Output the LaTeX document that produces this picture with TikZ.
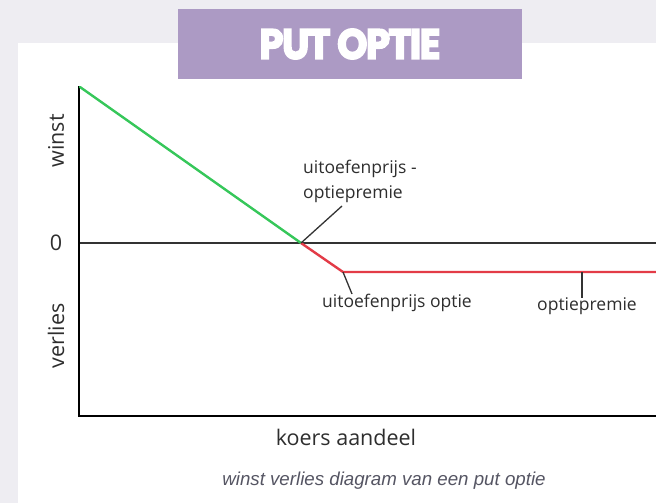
\documentclass[tikz,border=0pt]{standalone}
\usepackage{fontspec}
\setmainfont{Open Sans}
\newfontfamily\titlefont{Poppins}[FakeBold=4, LetterSpace=-4]
\newfontfamily\capfont{Liberation Sans}
\definecolor{bgc}{HTML}{EEEDF2}
\definecolor{bannerc}{HTML}{AC9AC4}
\definecolor{gainc}{HTML}{36C75A}
\definecolor{lossc}{HTML}{E33B47}
\definecolor{txtc}{HTML}{2E2E2E}
\definecolor{capc}{HTML}{555563}
\tikzset{
  axisline/.style={line width=2.4pt, black},
  zeroline/.style={line width=1.4pt, black!80},
  gainline/.style={line width=2.4pt, gainc},
  lossline/.style={line width=2.4pt, lossc},
  pointer/.style={line width=1.3pt, black!80},
  lbl/.style={font=\fontsize{17.5}{25}\selectfont, text=txtc, inner sep=0pt},
  axlbl/.style={font=\fontsize{21.5}{24}\selectfont, text=txtc, inner sep=0pt},
}
\begin{document}
\begin{tikzpicture}[x=1pt,y=-1pt]
\useasboundingbox (0,0) rectangle (656,503);
\fill[bgc] (0,0) rectangle (656,503);
\fill[white] (18,43) rectangle (656,503);
\fill[bannerc] (178,9) rectangle (522,79);
\node[text=white, inner sep=0pt] (title) at (350,44) {\resizebox{181pt}{30pt}{\titlefont\bfseries PUT OPTIE}};
% axes
\coordinate (top) at (79,86);
\coordinate (orig) at (79,416);
\coordinate (xend) at (656,416);
\coordinate (zl) at (79,243);
\coordinate (zr) at (656,243);
\draw[zeroline] (zl) -- (zr);
\draw[axisline] (top) -- (orig) -- (xend);
% payoff
\coordinate (be) at (301,243);
\coordinate (kink) at (343,272);
\coordinate (rend) at (656,272);
\draw[gainline, line cap=round] (80,87) coordinate (gs) -- (be);
\draw[lossline, line join=round] (be) -- (kink) -- (rend);
% pointers and labels
\node[lbl, align=left, anchor=west] (lbe) at (303,181) {uitoefenprijs -\\optiepremie};
\coordinate (pbe) at (342,206);
\draw[pointer] (be) -- (pbe);
\node[lbl] (lk) at (397,303) {uitoefenprijs optie};
\coordinate (pk) at (352,294);
\draw[pointer] (kink) -- (pk);
\coordinate (tk) at (582,272);
\coordinate (tkb) at (582,298);
\draw[pointer] (tk) -- (tkb);
\node[lbl] (lp) at (587,306) {optiepremie};
% axis labels
\node[axlbl, rotate=90] (lw) at (56,141) {winst};
\node[axlbl] (l0) at (56,243) {0};
\node[axlbl, rotate=90] (lv) at (56,336) {verlies};
\node[axlbl] (lx) at (346,437) {koers aandeel};
\node[text=capc, inner sep=0pt, font=\capfont\itshape\fontsize{18.7}{20}\selectfont] (cap) at (384,481) {winst verlies diagram van een put optie};
\end{tikzpicture}
\end{document}
